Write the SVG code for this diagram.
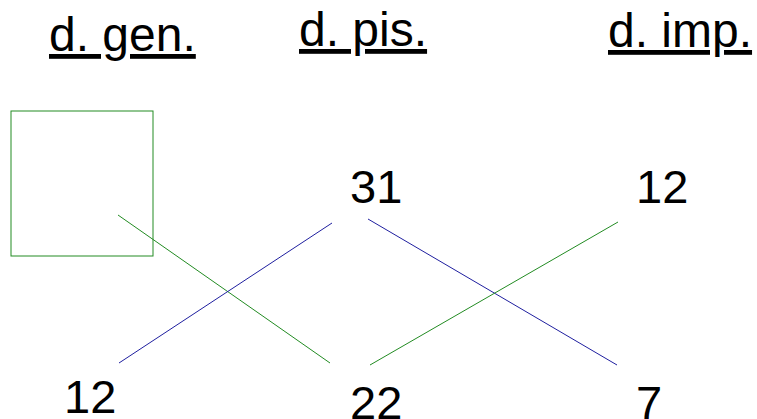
<svg xmlns="http://www.w3.org/2000/svg" width="757" height="419" viewBox="0 0 757 419">
<style>
.hd{font-family:"Liberation Sans",Arial,sans-serif;font-size:48px;fill:#000;text-decoration:underline;text-decoration-skip-ink:none}
.num{font-family:"Liberation Sans",Arial,sans-serif;font-size:47px;fill:#000}
.g{stroke:#228b22;stroke-width:1;fill:none}
.b{stroke:#1f1f9f;stroke-width:1;fill:none}
</style>
<rect width="757" height="419" fill="#fff"/>
<g id="headers">
<text class="hd" x="49" y="51">d. gen.</text>
<text class="hd" x="299" y="46">d. pis.</text>
<text class="hd" x="608" y="47">d. imp.</text>
</g>
<g id="box"><rect class="g" x="11" y="111" width="142" height="145"/></g>
<g id="n31"><text class="num" x="350" y="203">31</text></g>
<g id="n12a"><text class="num" x="636" y="203">12</text></g>
<g id="n12b"><text class="num" x="64" y="413">12</text></g>
<g id="n22"><text class="num" x="350" y="419">22</text></g>
<g id="n7"><text class="num" x="636" y="419">7</text></g>
<g id="connectors">
<line class="g" x1="118" y1="215" x2="330" y2="363"/>
<line class="b" x1="119" y1="363" x2="332" y2="223"/>
<line class="b" x1="368" y1="219" x2="617" y2="365"/>
<line class="g" x1="370" y1="365" x2="618" y2="222"/>
</g>
</svg>
